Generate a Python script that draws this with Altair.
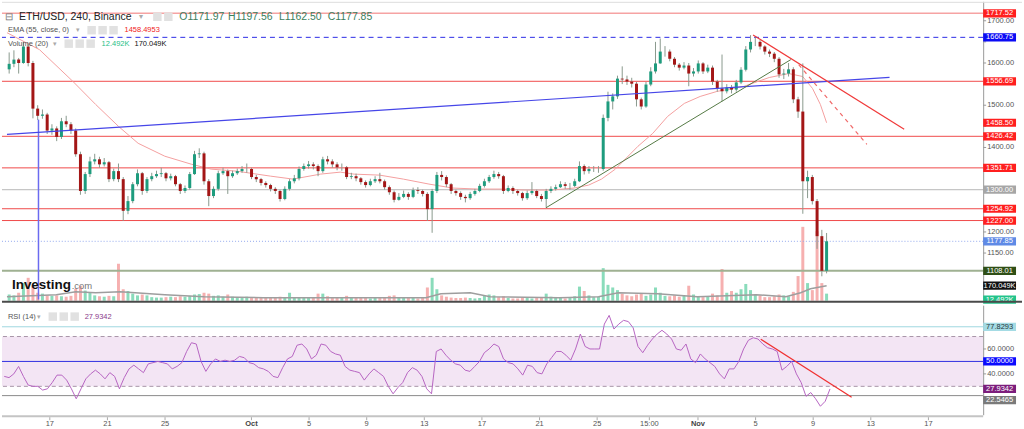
import altair as alt
import pandas as pd

FONT = "Liberation Sans"

# ---------------- data (8-hour bars) ----------------
first_open = 1585
closes = [
    1598, 1608, 1600, 1639, 1600, 1492, 1475, 1478, 1440, 1445,
    1425, 1462, 1455, 1440, 1384, 1297, 1337, 1367, 1372, 1360,
    1365, 1325, 1344, 1325, 1250, 1273, 1313, 1339, 1297, 1325,
    1332, 1337, 1339, 1327, 1332, 1313, 1297, 1304, 1337, 1384,
    1386, 1320, 1285, 1302, 1339, 1344, 1332, 1339, 1344, 1349,
    1349, 1330, 1325, 1316, 1311, 1302, 1297, 1278, 1302, 1320,
    1327, 1349, 1356, 1360, 1356, 1344, 1372, 1367, 1360, 1353,
    1353, 1330, 1332, 1327, 1318, 1311, 1320, 1325, 1320, 1306,
    1294, 1276, 1283, 1290, 1283, 1299, 1297, 1290, 1254, 1297,
    1335, 1330, 1313, 1297, 1292, 1283, 1280, 1290, 1297, 1309,
    1320, 1330, 1337, 1332, 1297, 1304, 1297, 1292, 1280, 1292,
    1297, 1285, 1278, 1297, 1302, 1306, 1313, 1309, 1309, 1320,
    1356, 1344, 1349, 1349, 1349, 1470, 1509, 1521, 1563, 1561,
    1556, 1551, 1514, 1497, 1549, 1580, 1599, 1627, 1627, 1610,
    1596, 1589, 1594, 1575, 1580, 1599, 1580, 1589, 1556, 1540,
    1533, 1542, 1537, 1554, 1584, 1632, 1650, 1650, 1639, 1627,
    1622, 1610, 1573, 1575, 1585, 1514, 1485, 1320, 1330, 1273,
    1190, 1108, 1177.85]
highs = [
    1625, 1630, 1612, 1650, 1645, 1605, 1500, 1490, 1482, 1455,
    1450, 1470, 1475, 1460, 1445, 1390, 1342, 1378, 1385, 1378,
    1375, 1368, 1350, 1362, 1330, 1285, 1318, 1348, 1342, 1330,
    1340, 1345, 1352, 1342, 1338, 1335, 1316, 1310, 1342, 1392,
    1398, 1390, 1325, 1308, 1345, 1352, 1348, 1345, 1350, 1356,
    1362, 1352, 1335, 1328, 1320, 1314, 1306, 1300, 1308, 1325,
    1335, 1355, 1362, 1368, 1365, 1360, 1378, 1380, 1372, 1365,
    1362, 1356, 1340, 1338, 1330, 1322, 1326, 1332, 1340, 1324,
    1310, 1298, 1292, 1298, 1294, 1305, 1306, 1300, 1294, 1302,
    1342, 1344, 1334, 1316, 1300, 1296, 1288, 1295, 1302, 1314,
    1326, 1335, 1345, 1342, 1335, 1310, 1308, 1300, 1295, 1298,
    1318, 1300, 1290, 1302, 1308, 1312, 1320, 1318, 1316, 1326,
    1367, 1360, 1356, 1356, 1356, 1478, 1532, 1528, 1570, 1592,
    1570, 1565, 1555, 1518, 1555, 1590, 1650, 1658, 1640, 1632,
    1614, 1600, 1602, 1600, 1588, 1606, 1602, 1596, 1594, 1560,
    1620, 1550, 1548, 1560, 1590, 1640, 1666, 1660, 1654, 1642,
    1632, 1626, 1614, 1586, 1600, 1590, 1520, 1599, 1345, 1335,
    1278, 1205, 1197.56]
lows = [
    1575, 1590, 1575, 1598, 1592, 1469, 1465, 1468, 1432, 1430,
    1415, 1420, 1448, 1432, 1378, 1288, 1290, 1330, 1360, 1352,
    1355, 1318, 1320, 1318, 1226, 1242, 1268, 1308, 1288, 1292,
    1320, 1328, 1330, 1320, 1322, 1308, 1290, 1292, 1300, 1335,
    1375, 1312, 1261, 1280, 1298, 1335, 1290, 1328, 1335, 1340,
    1340, 1325, 1318, 1310, 1305, 1296, 1290, 1272, 1275, 1298,
    1315, 1322, 1345, 1350, 1348, 1332, 1340, 1360, 1352, 1346,
    1345, 1325, 1325, 1320, 1312, 1305, 1308, 1316, 1315, 1300,
    1288, 1270, 1274, 1280, 1276, 1280, 1290, 1284, 1226, 1198,
    1292, 1322, 1306, 1290, 1286, 1276, 1270, 1276, 1286, 1294,
    1305, 1316, 1326, 1326, 1290, 1294, 1290, 1286, 1274, 1276,
    1288, 1280, 1272, 1257, 1292, 1298, 1304, 1302, 1300, 1306,
    1318, 1336, 1338, 1342, 1340, 1345, 1462, 1490, 1515, 1550,
    1548, 1542, 1497, 1490, 1494, 1545, 1575, 1598, 1615, 1604,
    1590, 1582, 1585, 1545, 1568, 1575, 1574, 1576, 1548, 1532,
    1509, 1528, 1528, 1532, 1550, 1580, 1625, 1640, 1632, 1620,
    1614, 1602, 1565, 1562, 1568, 1505, 1470, 1243, 1280, 1265,
    1160, 1095, 1102]
volumes_k = [
    70, 60, 90, 200, 260, 170, 90, 80, 60, 55,
    60, 50, 45, 55, 135, 170, 115, 90, 60, 50,
    45, 55, 50, 420, 130, 110, 80, 60, 70, 60,
    40, 35, 35, 40, 45, 40, 50, 45, 55, 70,
    75, 90, 80, 55, 60, 45, 70, 45, 40, 35,
    45, 40, 35, 30, 35, 30, 35, 45, 40, 90,
    40, 35, 30, 40, 35, 80, 80, 50, 35, 30,
    40, 55, 40, 30, 35, 30, 25, 30, 30, 40,
    55, 60, 40, 30, 35, 30, 25, 40, 150, 260,
    130, 60, 45, 35, 30, 30, 35, 30, 25, 30,
    55, 70, 60, 40, 50, 30, 25, 25, 35, 30,
    25, 30, 30, 80, 45, 30, 30, 25, 35, 50,
    160, 110, 60, 40, 45, 370, 180, 150, 120, 80,
    60, 50, 70, 80, 55, 70, 150, 90, 55, 50,
    60, 45, 55, 170, 70, 50, 40, 45, 80, 60,
    360, 90, 110, 90, 130, 190, 120, 70, 60, 40,
    40, 50, 70, 60, 50, 100, 280, 840, 200, 120,
    790, 200, 80]
rsi_values = [
    38, 37, 40, 46, 38, 31, 30, 30, 27, 28,
    33, 39, 39, 35, 28, 20, 28, 36, 40, 43,
    40, 36, 41, 38, 28, 37, 44, 47, 44, 41,
    48, 49, 50, 49, 48, 44, 46, 49, 58, 65,
    64, 50, 42, 48, 52, 50, 51, 50, 51, 54,
    53, 49, 48, 45, 44, 42, 38, 37, 45, 52,
    54, 63, 64, 60, 52, 55, 64, 63, 58, 56,
    55, 46, 43, 42, 41, 35, 40, 44, 41, 38,
    30, 24, 29, 33, 41, 45, 43, 38, 28, 24,
    58, 60, 55, 51, 48, 47, 43, 42, 46, 50,
    57, 60, 64, 62, 52, 49, 48, 44, 39, 47,
    46, 41, 40, 48, 53, 58, 58, 55, 51, 60,
    72, 62, 60, 60, 60, 80, 87, 76, 80, 83,
    82, 77, 62, 57, 63, 68, 72, 75, 72, 68,
    60, 59, 64, 52, 49, 56, 52, 49, 46, 40,
    36, 44, 44, 50, 60, 67, 69, 68, 64, 61,
    60, 58, 43, 46, 50, 40, 33, 22, 25, 20,
    14, 18, 27.93]

# EMA(55) line (day index since Sep 1, price)
ema_t = [12.68, 14.96, 17.31, 18.90, 20.50, 21.88, 23.75, 25.61, 27.00, 28.79,
         31.15, 32.74, 34.67, 36.06, 37.02, 38.82, 40.48, 42.28, 43.94, 45.74,
         47.40, 48.99, 50.86, 52.45, 53.48, 54.38, 55.35, 56.94, 57.98, 59.02,
         60.19, 61.30, 62.47, 64.34, 66.14, 67.52, 68.49, 69.18, 69.73, 70.17]
ema_price = [1671.7, 1631.6, 1556.2, 1501.9, 1450.0, 1409.9, 1379.3, 1360.4, 1348.7, 1343.9,
             1332.2, 1325.1, 1336.9, 1341.6, 1336.9, 1334.5, 1325.1, 1313.3, 1303.9, 1301.5,
             1301.5, 1299.1, 1299.1, 1303.9, 1310.9, 1325.1, 1348.7, 1402.9, 1433.5, 1473.6,
             1504.3, 1520.8, 1532.6, 1544.4, 1565.6, 1575.0, 1568.0, 1539.7, 1501.9, 1458.5]

# Volume MA(20)
volma_t = [12.68, 16.14, 17.52, 18.90, 20.63, 21.67, 23.75, 26.51, 30.66, 35.50,
           42.07, 43.11, 45.18, 46.57, 51.41, 54.17, 55.56, 58.32, 61.09, 63.16,
           65.24, 67.31, 68.35, 69.04, 70.17]
volma_k = [45, 68, 102, 91, 102, 91, 68, 45, 34, 34,
           34, 79, 91, 45, 34, 45, 91, 79, 45, 57,
           68, 45, 91, 136, 170.049]

# horizontal levels
red_levels = [1556.69, 1426.42, 1351.71, 1254.92, 1227.00]
pink_level = 1717.52
blue_dash_level = 1660.75
grey_level = 1300.00
last_price_level = 1177.85
green_level = 1108.01

# trend lines (start, end) as (day, price)
blue_trend = [(12.68, 1431.0), (74.58, 1566.0)]
green_trend = [(50.49, 1257.3), (67.66, 1608.0)]
red_trend = [(65.01, 1666.3), (75.61, 1443.0)]
red_dash_trend = [(68.21, 1596.0), (72.99, 1407.5)]
blue_vertical = (14.89, 1466.0, 1040.0)
rsi_trend = [(65.36, 67.8), (71.67, 21.2)]

# price-scale tags
price_tag_values = [1717.52, 1660.75, 1556.69, 1458.50, 1426.42, 1351.71, 1300.00, 1254.92, 1227.00, 1177.85, 1108.01]
volume_tag_values = [170.049, 12.492]
volume_tag_labels = ["170.049K", "12.492K"]
rsi_tag_values = [77.8293, 50.0, 27.9342, 22.5465]

# axis ticks
price_ticks = [1100, 1150, 1200, 1250, 1300, 1350, 1400, 1450, 1500, 1550, 1600, 1650, 1700]
rsi_ticks = [20, 40, 60, 80]
tick_t = [16, 20, 24, 30, 34, 38, 42, 46, 50, 54, 57.625, 61, 65, 69, 73, 77]
tick_labels = ["17", "21", "25", "Oct", "5", "9", "13", "17", "21", "25", "15:00", "Nov", "5", "9", "13", "17"]
month_labels = ["Oct", "Nov"]

# ---------------- styling ----------------
UP, DN = "#1e9c7e", "#a31616"
VUP, VDN = "#8adcbb", "#f6b0b0"
RED_LINE = "#f04a4a"
TAG_RED = "#ff1f1f"
W_MAIN, H_MAIN, H_RSI = 985, 300, 110
TAG_X = 1001.5
TAG_PATH = "M-1,-0.25L1,-0.25L1,0.25L-1,0.25Z"
TAG_SIZE = 1089
AX_COLOR = "#9a9a9a"
LAB_COLOR = "#555555"

XS = alt.Scale(domain=[12.68, 80.8], nice=False, zero=False)
PS = alt.Scale(domain=[1037.3, 1744.8], nice=False, zero=False)
VS = alt.Scale(domain=[0, 3400], nice=False, zero=False)
RS = alt.Scale(domain=[6.8, 94.8], nice=False, zero=False)
PX_PER_PRICE = H_MAIN / (1744.8 - 1037.3)
PX_PER_RSI = H_RSI / (94.8 - 6.8)


def X(f="t"):
    return alt.X(f"{f}:Q", scale=XS, axis=None)


n = len(closes)
t = [12.667 + k / 3 + 1 / 6 for k in range(n)]
opens = [first_open] + closes[:-1]
up = [c >= o for c, o in zip(closes, opens)]
cdf = pd.DataFrame({
    "t": t, "open": opens, "close": closes, "high": highs, "low": lows,
    "vol": volumes_k, "zero": [0] * n, "rsi": rsi_values,
    "body": [UP if u else DN for u in up],
    "vcol": [VUP if u else VDN for u in up],
})

dummy = pd.DataFrame({"a": [0]})


def txt(s, x, y, size=7.5, color="#555", weight="normal", align="left", baseline="middle"):
    return alt.Chart(dummy).mark_text(
        text=s, font=FONT, fontSize=size, color=color, fontWeight=weight,
        align=align, baseline=baseline).encode(x=alt.value(x), y=alt.value(y))


def icon(x, y):
    return alt.Chart(dummy).mark_point(shape="square", size=72, filled=True,
                                       color="#e1e1e1", opacity=1).encode(
        x=alt.value(x), y=alt.value(y))


def hrule(values, scale, color, width=1.0, dash=None):
    kw = dict(color=color, strokeWidth=width)
    if dash:
        kw["strokeDash"] = dash
    return alt.Chart(pd.DataFrame({"v": values})).mark_rule(**kw).encode(
        y=alt.Y("v:Q", scale=scale, axis=None))


def seg(points, scale, color, width=1.2, dash=None):
    df = pd.DataFrame({"t": [p[0] for p in points], "v": [p[1] for p in points]})
    kw = dict(color=color, strokeWidth=width)
    if dash:
        kw["strokeDash"] = dash
    return alt.Chart(df).mark_line(**kw).encode(x=X(), y=alt.Y("v:Q", scale=scale, axis=None))


def tags(values, labels, bgs, fgs, scale, y_offset=0):
    df = pd.DataFrame({"v": values, "lab": labels, "bg": bgs, "fg": fgs})
    b = alt.Chart(df)
    box = b.mark_point(shape=TAG_PATH, size=TAG_SIZE, filled=True, opacity=1,
                       strokeWidth=0, yOffset=y_offset).encode(
        x=alt.value(TAG_X), y=alt.Y("v:Q", scale=scale, axis=None),
        color=alt.Color("bg:N", scale=None))
    lab = b.mark_text(font=FONT, fontSize=7.5, align="center", baseline="middle",
                      yOffset=y_offset).encode(
        x=alt.value(TAG_X), y=alt.Y("v:Q", scale=scale, axis=None),
        text="lab:N", color=alt.Color("fg:N", scale=None))
    return box + lab


def right_axis(values, fmt, scale, height, covered_by, px_per_unit):
    # labels lying under a value tag are hidden, as on the original price scale
    shown = [v for v in values if all(abs(v - c) * px_per_unit > 7 for c in covered_by)]
    df = pd.DataFrame({"v": values})
    ldf = pd.DataFrame({"v": shown, "lab": [format(v, fmt) for v in shown]})
    dom = alt.Chart(dummy).mark_rule(color=AX_COLOR, strokeWidth=1).encode(
        x=alt.value(W_MAIN + 0.5), y=alt.value(0), y2=alt.value(height))
    ticks = alt.Chart(df).mark_rule(color=AX_COLOR, strokeWidth=1).encode(
        x=alt.value(W_MAIN), x2=alt.value(W_MAIN + 3),
        y=alt.Y("v:Q", scale=scale, axis=None))
    labs = alt.Chart(ldf).mark_text(font=FONT, fontSize=7.5, color=LAB_COLOR,
                                    align="left", baseline="middle").encode(
        x=alt.value(W_MAIN + 4), y=alt.Y("v:Q", scale=scale, axis=None), text="lab:N")
    return alt.layer(dom, ticks, labs)


def bottom_axis():
    df = pd.DataFrame({"t": tick_t, "lab": tick_labels})
    plain = df[~df.lab.isin(month_labels)]
    months = df[df.lab.isin(month_labels)]
    dom = alt.Chart(dummy).mark_rule(color="#c4c4c4", strokeWidth=2).encode(
        x=alt.value(0), x2=alt.value(W_MAIN), y=alt.value(H_RSI + 1))
    ticks = alt.Chart(df).mark_rule(color="#aaaaaa", strokeWidth=1).encode(
        x=X(), y=alt.value(H_RSI + 2), y2=alt.value(H_RSI + 5))
    l1 = alt.Chart(plain).mark_text(font=FONT, fontSize=7.5, color=LAB_COLOR,
                                    align="center", baseline="middle").encode(
        x=X(), y=alt.value(H_RSI + 9), text="lab:N")
    l2 = alt.Chart(months).mark_text(font=FONT, fontSize=7.5, color="#444",
                                     fontWeight="bold", align="center",
                                     baseline="middle").encode(
        x=X(), y=alt.value(H_RSI + 9), text="lab:N")
    return alt.layer(dom, ticks, l1, l2)


base = alt.Chart(cdf)

# ---------- price group ----------
levels = alt.layer(
    hrule([pink_level], PS, "#f6a3a3", 1.5),
    hrule([blue_dash_level], PS, "#2b2be6", 1, [5, 4]),
    hrule(red_levels, PS, RED_LINE, 1),
    hrule([grey_level], PS, "#b8b8b8", 1),
    hrule([last_price_level], PS, "#93a9ee", 1, [1, 2]),
    hrule([green_level], PS, "#9fb192", 2),
)

ema = alt.Chart(pd.DataFrame({"t": ema_t, "v": ema_price})).mark_line(
    color="#f4a0a0", strokeWidth=1).encode(x=X(), y=alt.Y("v:Q", scale=PS, axis=None))

wicks = base.mark_rule(color="#8a9a8e", strokeWidth=1).encode(
    x=X(), y=alt.Y("low:Q", scale=PS, axis=None), y2="high:Q")
bodies = base.mark_bar(width=3).encode(
    x=X(), y=alt.Y("open:Q", scale=PS, axis=None), y2="close:Q",
    color=alt.Color("body:N", scale=None))

vline = alt.Chart(pd.DataFrame({"t": [blue_vertical[0]], "a": [blue_vertical[1]],
                                "b": [blue_vertical[2]]})).mark_rule(
    color="#6b6bf0", strokeWidth=1.5).encode(x=X(), y=alt.Y("a:Q", scale=PS, axis=None), y2="b:Q")

trends = alt.layer(
    seg(blue_trend, PS, "#4646e8", 1.2),
    seg(green_trend, PS, "#557a45", 1),
    seg(red_trend, PS, "#f03a3a", 1.2),
    seg(red_dash_trend, PS, "#f06a6a", 1.2, [4, 4]),
)

ptag_bg = [TAG_RED, "#0b0bf5", TAG_RED, TAG_RED, TAG_RED, TAG_RED, "#a6a6a6",
           TAG_RED, TAG_RED, "#5f8ae6", "#2f4f16"]
price_tags = tags(price_tag_values, [f"{v:.2f}" for v in price_tag_values], ptag_bg,
                  ["white"] * len(price_tag_values), PS)

legend = alt.layer(
    txt("⊟", 3, 15, 10, "#777"),
    txt("ETH/USD, 240, Binance", 17, 15, 10.5, "#222"),
    txt("▾", 138, 15, 8, "#aaa"),
    icon(156, 15), icon(167, 15),
    txt("O1171.97", 178, 15, 10.5, "#3c7d5c"),
    txt("H1197.56", 227, 15, 10.5, "#3c7d5c"),
    txt("L1162.50", 278, 15, 10.5, "#3c7d5c"),
    txt("C1177.85", 327, 15, 10.5, "#3c7d5c"),
    txt("EMA (55, close, 0)", 6, 28.5, 7.5, "#555"),
    txt("▾", 74, 28.5, 7, "#aaa"),
    icon(90, 28.5), icon(101, 28.5), icon(112, 28.5),
    txt("1458.4953", 123, 28.5, 7.5, "#f01c1c"),
    txt("Volume (20)", 6, 42, 7.5, "#555"),
    txt("▾", 51, 42, 7, "#aaa"),
    icon(67, 42), icon(78, 42), icon(89, 42),
    txt("12.492K", 100, 42, 7.5, "#1fc087"),
    txt("170.049K", 133, 42, 7.5, "#111"),
    txt("Investing", 10, 288, 13.5, "#111", "bold", baseline="alphabetic"),
    txt(".com", 70, 288, 9.5, "#777", baseline="alphabetic"),
)

separator = alt.Chart(dummy).mark_rule(color="#4a4a4a", strokeWidth=2).encode(
    x=alt.value(0), x2=alt.value(1024), y=alt.value(301))
top_border = alt.Chart(dummy).mark_rule(color="#dddddd", strokeWidth=1).encode(
    x=alt.value(0), x2=alt.value(1024), y=alt.value(0.5))

price_group = alt.layer(levels, ema, wicks, bodies, vline, trends,
                        right_axis(price_ticks, ".2f", PS, H_MAIN, price_tag_values, PX_PER_PRICE),
                        price_tags, legend)

# ---------- volume group ----------
vol_bars = base.mark_bar(width=3, orient="vertical").encode(
    x=X(), y=alt.Y("vol:Q", scale=VS, axis=None), y2="zero:Q",
    color=alt.Color("vcol:N", scale=None))
vol_ma = alt.Chart(pd.DataFrame({"t": volma_t, "v": volma_k})).mark_line(
    color="#9e9e9e", strokeWidth=1.5).encode(x=X(), y=alt.Y("v:Q", scale=VS, axis=None))
vol_tags = tags(volume_tag_values, volume_tag_labels, ["#111111", "#22c38a"],
                ["white", "white"], VS)
vol_group = alt.layer(vol_bars, vol_ma)

main = alt.layer(vol_group, price_group, vol_tags, separator, top_border).resolve_scale(
    y="independent").properties(width=W_MAIN, height=H_MAIN)

# ---------- RSI panel ----------
band = alt.Chart(pd.DataFrame({"lo": [30], "hi": [70]})).mark_rect(color="#f3e5f4").encode(
    y=alt.Y("lo:Q", scale=RS, axis=None), y2="hi:Q", x=alt.value(0), x2=alt.value(W_MAIN))
rsi_levels = alt.layer(
    hrule([30, 70], RS, "#a895a8", 1, [4, 3]),
    hrule([50], RS, "#3030e0", 1),
    hrule([77.8293], RS, "#a0d8e0", 1),
    hrule([22.5465], RS, "#8a8a8a", 1),
)
rsi_line = base.mark_line(color="#b765c2", strokeWidth=1).encode(
    x=X(), y=alt.Y("rsi:Q", scale=RS, axis=None))
rsi_tr = seg(rsi_trend, RS, "#f03030", 1.2)
rsi_tags = alt.layer(
    tags(rsi_tag_values[:3], [f"{v:.4f}" for v in rsi_tag_values[:3]],
         ["#a4dbe4", "#0a0aff", "#7c1d7c"], ["#2a3a40", "white", "white"], RS),
    tags(rsi_tag_values[3:], [f"{v:.4f}" for v in rsi_tag_values[3:]],
         ["#7a7a7a"], ["white"], RS, y_offset=4.5),
)
rsi_legend = alt.layer(
    txt("RSI (14)", 6, 11, 7.5, "#555"),
    txt("▾", 35, 11, 7, "#aaa"),
    icon(51, 11), icon(62, 11), icon(73, 11),
    txt("27.9342", 83, 11, 7.5, "#8b3a8b"),
)
rsi = alt.layer(band, rsi_levels, rsi_line, rsi_tr,
                right_axis(rsi_ticks, ".4f", RS, H_RSI, rsi_tag_values, PX_PER_RSI),
                bottom_axis(), rsi_tags, rsi_legend).properties(width=W_MAIN, height=H_RSI)

chart = alt.vconcat(main, rsi, spacing=0).properties(
    padding=0, background="white").configure(
    font=FONT, view=alt.ViewConfig(stroke="transparent"))

chart.save("out.html", embed_options={"renderer": "svg", "actions": False})
